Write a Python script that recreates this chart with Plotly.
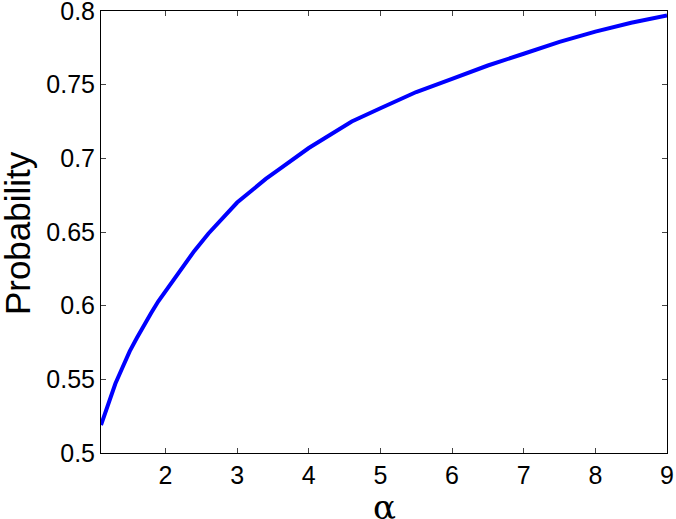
import plotly.graph_objects as go

alpha = [1.1, 1.2, 1.3, 1.4, 1.5, 1.6, 1.7, 1.8, 1.9, 2.0, 2.2, 2.4, 2.6, 2.8, 3.0,
         3.2, 3.4, 3.6, 3.8, 4.0, 4.3, 4.6, 5.0, 5.5, 6.0, 6.5, 7.0, 7.5, 8.0, 8.5, 9.0]
prob = [0.519, 0.534, 0.547, 0.558, 0.569, 0.578, 0.587, 0.595, 0.603, 0.610, 0.623,
        0.637, 0.649, 0.660, 0.670, 0.678, 0.686, 0.693, 0.700, 0.707, 0.716, 0.725,
        0.734, 0.745, 0.754, 0.763, 0.771, 0.779, 0.786, 0.792, 0.797]

xticks = [2, 3, 4, 5, 6, 7, 8, 9]
yticks = [0.5, 0.55, 0.6, 0.65, 0.7, 0.75, 0.8]
ytick_text = ["0.5", "0.55", "0.6", "0.65", "0.7", "0.75", "0.8"]

fig = go.Figure()
fig.add_trace(go.Scatter(x=alpha, y=prob, mode="lines",
                         line=dict(color="#0000ff", width=4), showlegend=False))

font_family = "Liberation Sans, Arial, Helvetica, sans-serif"
axis_common = dict(showgrid=False, zeroline=False, showline=True, linecolor="black",
                   linewidth=1, mirror="ticks", ticks="inside", ticklen=5,
                   tickcolor="#444444", tickwidth=1, automargin=False,
                   ticklabeloverflow="allow",
                   tickfont=dict(family=font_family, size=25, color="black"))

fig.update_layout(
    width=676, height=519,
    margin=dict(l=101, r=9, t=11, b=66),
    paper_bgcolor="white", plot_bgcolor="white",
    xaxis=dict(range=[1.1, 9], tickvals=xticks, **axis_common),
    yaxis=dict(range=[0.5, 0.8], tickvals=yticks, ticktext=ytick_text, **axis_common),
    annotations=[
        dict(text="Probability", xref="paper", yref="paper", x=-0.147, y=0.497,
             xanchor="center", yanchor="middle", textangle=-90, showarrow=False,
             font=dict(family=font_family, size=35, color="black")),
        dict(text="α", xref="paper", yref="paper", x=(384 - 101) / 566, y=-0.122,
             xanchor="center", yanchor="middle", showarrow=False,
             font=dict(family="DejaVu Serif, serif", size=34, color="black")),
    ],
)

fig.write_html("out.html",
               config={"displayModeBar": False},
               post_script="document.body.style.margin='0';document.body.style.overflow='hidden';")
